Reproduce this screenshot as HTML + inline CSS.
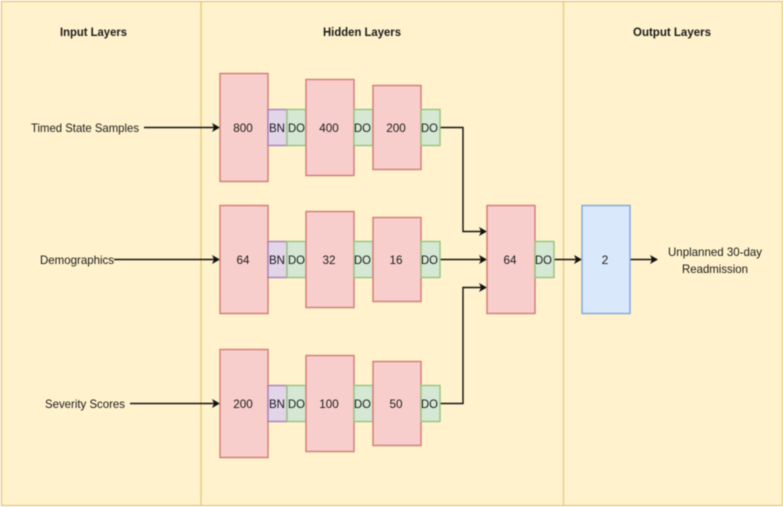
<!DOCTYPE html>
<html><head><meta charset="utf-8"><style>
html,body{margin:0;padding:0;background:#fff}
svg{display:block;filter:blur(.4px)}
text{font-family:"Liberation Sans",sans-serif;font-size:12px;fill:#1a1a1a;text-anchor:middle}
.t{font-weight:bold}
.r{fill:#f8cecc;stroke:#d47a76;stroke-width:1.4}
.g{fill:#d5e8d4;stroke:#97c47c;stroke-width:1.4}
.p{fill:#e1d5e7;stroke:#a583b8;stroke-width:1.4}
.b{fill:#dae8fc;stroke:#7ea6e0;stroke-width:1.4}
.l{fill:none;stroke:#111;stroke-width:1.4}
.h{fill:#111}
</style></head><body>
<svg width="783" height="507" viewBox="0 0 783 507" xmlns="http://www.w3.org/2000/svg">
<rect width="783" height="507" fill="#fff"/>
<rect x="1.500" y="1.500" width="781" height="504" fill="#fff2cc" stroke="#e5c878" stroke-width="1.3"/>
<path d="M201 1.500V505.500M563.500 1.500V505.500" stroke="#e5c878" stroke-width="1.3" fill="none"/>
<text class="t" x="93.500" y="36" textLength="67" lengthAdjust="spacingAndGlyphs">Input Layers</text>
<text class="t" x="362" y="36" textLength="78" lengthAdjust="spacingAndGlyphs">Hidden Layers</text>
<text class="t" x="672" y="36" textLength="78" lengthAdjust="spacingAndGlyphs">Output Layers</text>
<text x="85" y="132" textLength="108" lengthAdjust="spacingAndGlyphs">Timed State Samples</text>
<text x="77" y="264" textLength="74" lengthAdjust="spacingAndGlyphs">Demographics</text>
<text x="85" y="408" textLength="80" lengthAdjust="spacingAndGlyphs">Severity Scores</text>
<text x="715" y="256" textLength="94" lengthAdjust="spacingAndGlyphs">Unplanned 30-day</text>
<text x="715" y="273" textLength="66" lengthAdjust="spacingAndGlyphs">Readmission</text>

<path class="l" d="M144 127.500H214M114 259.500H214M130 403.500H214M440 127.500H463V231.500H481M440 259.500H481M440 403.500H463V287.500H481M554 259.500H576M630 259.500H652"/>
<path class="h" d="M220 127.500l-8 4.500 2-4.500-2-4.500zM220 259.500l-8 4.500 2-4.500-2-4.500zM220 403.500l-8 4.500 2-4.500-2-4.500zM487 231.500l-8 4.500 2-4.500-2-4.500zM487 259.500l-8 4.500 2-4.500-2-4.500zM487 287.500l-8 4.500 2-4.500-2-4.500zM582 259.500l-8 4.500 2-4.500-2-4.500zM658 259.500l-8 4.500 2-4.500-2-4.500z"/>

<!-- row 1 -->
<rect class="r" x="220" y="73.500" width="48" height="108"/>
<rect class="p" x="268" y="109.500" width="19" height="36"/>
<rect class="g" x="287" y="109.500" width="19" height="36"/>
<rect class="r" x="306" y="79.500" width="48" height="96"/>
<rect class="g" x="354" y="109.500" width="19" height="36"/>
<rect class="r" x="373" y="85.500" width="48" height="84"/>
<rect class="g" x="421" y="109.500" width="19" height="36"/>
<text x="243" y="132" textLength="19.500" lengthAdjust="spacingAndGlyphs">800</text><text x="277" y="132" textLength="16" lengthAdjust="spacingAndGlyphs">BN</text><text x="296.500" y="132" textLength="17" lengthAdjust="spacingAndGlyphs">DO</text><text x="329" y="132" textLength="19.500" lengthAdjust="spacingAndGlyphs">400</text><text x="362.500" y="132" textLength="17" lengthAdjust="spacingAndGlyphs">DO</text><text x="396" y="132" textLength="19.500" lengthAdjust="spacingAndGlyphs">200</text><text x="429.500" y="132" textLength="17" lengthAdjust="spacingAndGlyphs">DO</text>

<!-- row 2 -->
<rect class="r" x="220" y="205.500" width="48" height="108"/>
<rect class="p" x="268" y="241.500" width="19" height="36"/>
<rect class="g" x="287" y="241.500" width="19" height="36"/>
<rect class="r" x="306" y="211.500" width="48" height="96"/>
<rect class="g" x="354" y="241.500" width="19" height="36"/>
<rect class="r" x="373" y="217.500" width="48" height="84"/>
<rect class="g" x="421" y="241.500" width="19" height="36"/>
<text x="243" y="264" textLength="13" lengthAdjust="spacingAndGlyphs">64</text><text x="277" y="264" textLength="16" lengthAdjust="spacingAndGlyphs">BN</text><text x="296.500" y="264" textLength="17" lengthAdjust="spacingAndGlyphs">DO</text><text x="329" y="264" textLength="13" lengthAdjust="spacingAndGlyphs">32</text><text x="362.500" y="264" textLength="17" lengthAdjust="spacingAndGlyphs">DO</text><text x="396" y="264" textLength="13" lengthAdjust="spacingAndGlyphs">16</text><text x="429.500" y="264" textLength="17" lengthAdjust="spacingAndGlyphs">DO</text>

<!-- row 3 -->
<rect class="r" x="220" y="349.500" width="48" height="108"/>
<rect class="p" x="268" y="385.500" width="19" height="36"/>
<rect class="g" x="287" y="385.500" width="19" height="36"/>
<rect class="r" x="306" y="355.500" width="48" height="96"/>
<rect class="g" x="354" y="385.500" width="19" height="36"/>
<rect class="r" x="373" y="361.500" width="48" height="84"/>
<rect class="g" x="421" y="385.500" width="19" height="36"/>
<text x="243" y="408" textLength="19.500" lengthAdjust="spacingAndGlyphs">200</text><text x="277" y="408" textLength="16" lengthAdjust="spacingAndGlyphs">BN</text><text x="296.500" y="408" textLength="17" lengthAdjust="spacingAndGlyphs">DO</text><text x="329" y="408" textLength="19.500" lengthAdjust="spacingAndGlyphs">100</text><text x="362.500" y="408" textLength="17" lengthAdjust="spacingAndGlyphs">DO</text><text x="396" y="408" textLength="13" lengthAdjust="spacingAndGlyphs">50</text><text x="429.500" y="408" textLength="17" lengthAdjust="spacingAndGlyphs">DO</text>

<!-- merge -->
<rect class="r" x="487" y="205.500" width="48" height="108"/>
<rect class="g" x="535" y="241.500" width="19" height="36"/>
<rect class="b" x="582" y="205.500" width="48" height="108"/>
<text x="510" y="264" textLength="13" lengthAdjust="spacingAndGlyphs">64</text><text x="543.500" y="264" textLength="17" lengthAdjust="spacingAndGlyphs">DO</text><text x="605" y="264">2</text>
</svg>
</body></html>
